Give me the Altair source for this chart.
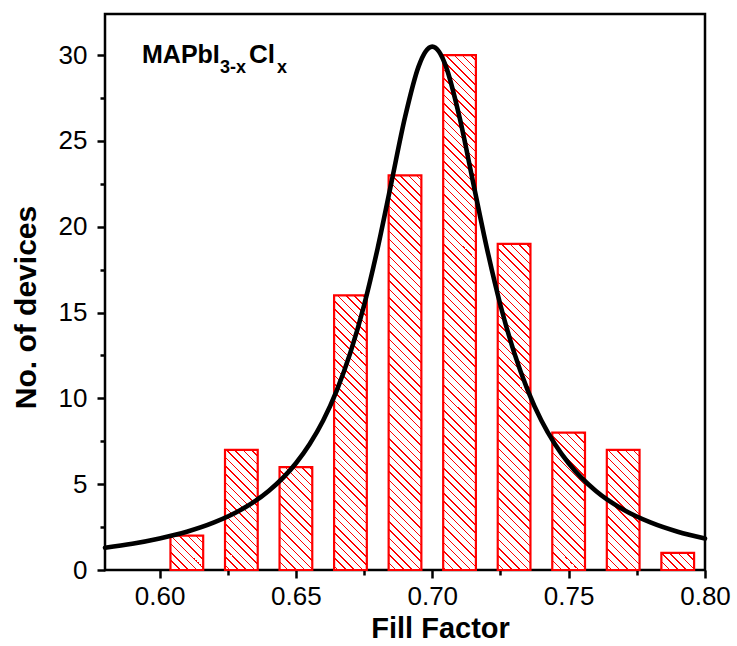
import altair as alt

# ---------------- data ----------------
bin_centers = [0.61, 0.63, 0.65, 0.67, 0.69, 0.71, 0.73, 0.75, 0.77, 0.79]
counts = [2, 7, 6, 16, 23, 30, 19, 8, 7, 1]

fit_x = [0.58, 0.59, 0.60, 0.61, 0.62, 0.63, 0.64, 0.65, 0.655, 0.66, 0.665,
         0.67, 0.675, 0.68, 0.685, 0.69, 0.695, 0.6975, 0.70, 0.7025, 0.705,
         0.71, 0.715, 0.72, 0.725, 0.73, 0.735, 0.74, 0.745, 0.75, 0.76,
         0.77, 0.78, 0.79, 0.80]
fit_y = [1.30, 1.53, 1.84, 2.23, 2.77, 3.52, 4.60, 6.22, 7.33, 8.71, 10.47,
         12.68, 15.43, 18.77, 22.57, 26.38, 29.35, 30.2, 30.5, 30.2, 29.35,
         26.38, 22.57, 18.77, 15.43, 12.68, 10.47, 8.71, 7.33, 6.22, 4.60,
         3.52, 2.77, 2.23, 1.84]

x_major = [0.60, 0.65, 0.70, 0.75, 0.80]
x_minor = [0.625, 0.675, 0.725, 0.775]
y_major = [0, 5, 10, 15, 20, 25, 30]
y_minor = [2.5, 7.5, 12.5, 17.5, 22.5, 27.5]

# ---------------- style ----------------
X_DOMAIN = [0.58, 0.80]
Y_DOMAIN = [0, 32.4]
W, H = 600, 556
BAR_W = 0.012
RED = "#ff0000"
FONT = "Liberation Sans"

SX = W / (X_DOMAIN[1] - X_DOMAIN[0])
SY = H / (Y_DOMAIN[1] - Y_DOMAIN[0])
HATCH_P = 8.3   # stripe period (px)
HATCH_L = 1.5   # stripe thickness (px, along x-y)


def hatch(center, count):
    """Diagonal hatch as a striped linear gradient (styling only)."""
    w = BAR_W * SX
    h = count * SY
    d = w + h
    m = d / (w * w + h * h)
    xl = (center - BAR_W / 2 - X_DOMAIN[0]) * SX
    base = xl - H
    s = (-base) % HATCH_P
    stops = [{"offset": 0, "color": "white"}]
    while s < d:
        a = round(s / d, 6)
        b = round(min((s + HATCH_L) / d, 1), 6)
        stops += [{"offset": a, "color": "white"}, {"offset": a, "color": RED},
                  {"offset": b, "color": RED}, {"offset": b, "color": "white"}]
        s += HATCH_P
    stops.append({"offset": 1, "color": "white"})
    return {"gradient": "linear", "x1": 0, "y1": 1,
            "x2": round(w * m, 6), "y2": round(1 - h * m, 6), "stops": stops}


bar_rows = [{"center": c, "count": n, "grad": hatch(c, n)}
            for c, n in zip(bin_centers, counts)]
fit_rows = [{"x": a, "y": b} for a, b in zip(fit_x, fit_y)]

xscale = alt.Scale(domain=X_DOMAIN, nice=False, zero=False)
yscale = alt.Scale(domain=Y_DOMAIN, nice=False, zero=False)

bars = alt.Chart(alt.Data(values=bar_rows)).transform_calculate(
    lo=f"datum.center - {BAR_W / 2}",
    hi=f"datum.center + {BAR_W / 2}",
    zero="0",
).mark_rect(stroke=RED, strokeWidth=2.2).encode(
    x=alt.X("lo:Q", scale=xscale,
            axis=alt.Axis(values=x_major, format=".2f", orient="bottom",
                          title="Fill Factor", tickSize=8, labelPadding=5,
                          labelFlush=False, labelOverlap=False,
                          titleX=335, titleY=67, titleBaseline="alphabetic",
                          titleAlign="center", titleFontSize=29)),
    x2="hi:Q",
    y=alt.Y("count:Q", scale=yscale,
            axis=alt.Axis(values=y_major, orient="left", title="No. of devices",
                          tickSize=8, labelPadding=10, labelOverlap=False,
                          titleX=-70, titleY=293, titleBaseline="alphabetic",
                          titleAlign="center", titleAngle=270)),
    y2="zero:Q",
    fill=alt.Fill("grad:N", scale=None),
)

curve = alt.Chart(alt.Data(values=fit_rows)).mark_line(
    color="black", strokeWidth=4.6, interpolate="monotone", strokeCap="round"
).encode(
    x=alt.X("x:Q", scale=xscale,
            axis=alt.Axis(values=x_minor, orient="bottom", labels=False,
                          title=None, tickSize=5)),
    y=alt.Y("y:Q", scale=yscale,
            axis=alt.Axis(values=y_minor, orient="left", labels=False,
                          title=None, tickSize=5)),
)

one = alt.Data(values=[{"k": 1}])
main_sz, sub_sz = 25, 18
t1 = alt.Chart(one).mark_text(text="MAPbI", font=FONT, fontWeight="bold",
                              fontSize=main_sz, align="left", baseline="alphabetic",
                              color="black").encode(x=alt.value(37), y=alt.value(49))
t2 = alt.Chart(one).mark_text(text="3-x", font=FONT, fontWeight="bold",
                              fontSize=sub_sz, align="left", baseline="alphabetic",
                              color="black").encode(x=alt.value(115), y=alt.value(59))
t3 = alt.Chart(one).mark_text(text="Cl", font=FONT, fontWeight="bold",
                              fontSize=26, align="left", baseline="alphabetic",
                              color="black").encode(x=alt.value(144), y=alt.value(49))
t4 = alt.Chart(one).mark_text(text="x", font=FONT, fontWeight="bold",
                              fontSize=sub_sz, align="left", baseline="alphabetic",
                              color="black").encode(x=alt.value(172), y=alt.value(59))

chart = alt.layer(bars, curve, t1, t2, t3, t4).resolve_axis(
    x="independent", y="independent"
).properties(
    width=W, height=H,
    autosize="none",
    padding={"left": 105, "top": 14, "right": 32, "bottom": 76},
    background="white",
).configure_view(
    stroke="black", strokeWidth=2.5
).configure_axis(
    grid=False, domain=False,
    tickColor="black", tickWidth=2.5,
    labelFont=FONT, labelFontSize=26, labelColor="black",
    titleFont=FONT, titleFontSize=30, titleFontWeight="bold", titleColor="black",
)

chart.save("out.html", embed_options={"renderer": "svg", "actions": False})
